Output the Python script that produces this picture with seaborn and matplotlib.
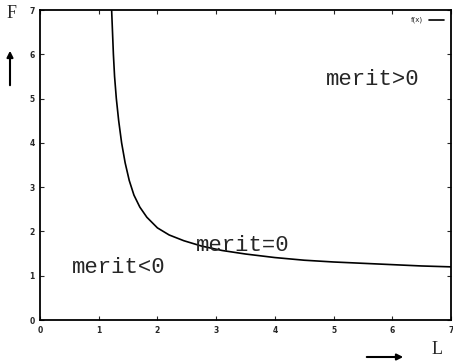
import matplotlib
matplotlib.use("Agg")
import matplotlib.pyplot as plt
import seaborn as sns

# curve points
L_vals = [1.22, 1.235, 1.25, 1.27, 1.30, 1.34, 1.39, 1.45, 1.52, 1.60, 1.70,
          1.82, 2.0, 2.2, 2.45, 2.75, 3.1, 3.5, 4.0, 4.5, 5.0, 5.5, 6.0, 6.5, 7.0]
F_vals = [7.0, 6.5, 6.0, 5.5, 5.0, 4.5, 4.0, 3.55, 3.15, 2.82, 2.55,
          2.32, 2.08, 1.92, 1.79, 1.67, 1.57, 1.49, 1.41, 1.35, 1.31, 1.28, 1.25, 1.22, 1.20]
ticks = [0, 1, 2, 3, 4, 5, 6, 7]
regions = ["merit>0", "merit=0", "merit<0"]
region_pos = [(5.66, 5.42), (3.46, 1.69), (1.34, 1.18)]

sns.set_style("ticks", {"xtick.direction": "in", "ytick.direction": "in"})
plt.rcParams["font.family"] = ["DejaVu Sans"]

fig = plt.figure(figsize=(4.53, 3.64), dpi=100)
ax = fig.add_axes([40 / 453, 1 - 320 / 364, 411 / 453, 310 / 364])

sns.lineplot(x=L_vals, y=F_vals, ax=ax, color="black", linewidth=1.2,
             sort=False, label="f(x)")

ax.set_xlim(0, 7)
ax.set_ylim(0, 7)
ax.set_xticks(ticks)
ax.set_yticks(ticks)
ax.tick_params(labelsize=5.5, length=3, width=0.8, top=True, right=True,
               pad=4)
for lab in ax.get_xticklabels() + ax.get_yticklabels():
    lab.set_fontweight("bold")
for s in ax.spines.values():
    s.set_linewidth(1.3)
    s.set_color("black")

for txt, (x, y) in zip(regions, region_pos):
    ax.text(x, y, txt, family="Liberation Mono", fontsize=16,
            ha="center", va="center")

leg = ax.legend(loc="upper right", frameon=False, fontsize=5,
                handlelength=2.2, borderaxespad=0.6, markerfirst=False)

# axis names with arrows
fig.text(12 / 453, 1 - 14 / 364, "F", family="Liberation Serif", fontsize=13,
         ha="center", va="center")
fig.text(437 / 453, 1 - 350 / 364, "L", family="Liberation Serif", fontsize=13,
         ha="center", va="center")
fig.add_artist(matplotlib.patches.FancyArrowPatch(
    (10 / 453, 1 - 88 / 364), (10 / 453, 1 - 48 / 364),
    transform=fig.transFigure, arrowstyle="-|>", mutation_scale=9,
    color="black", linewidth=1.5))
fig.add_artist(matplotlib.patches.FancyArrowPatch(
    (364 / 453, 1 - 357 / 364), (406 / 453, 1 - 357 / 364),
    transform=fig.transFigure, arrowstyle="-|>", mutation_scale=9,
    color="black", linewidth=1.5))

fig.savefig("out.png", dpi=100)
